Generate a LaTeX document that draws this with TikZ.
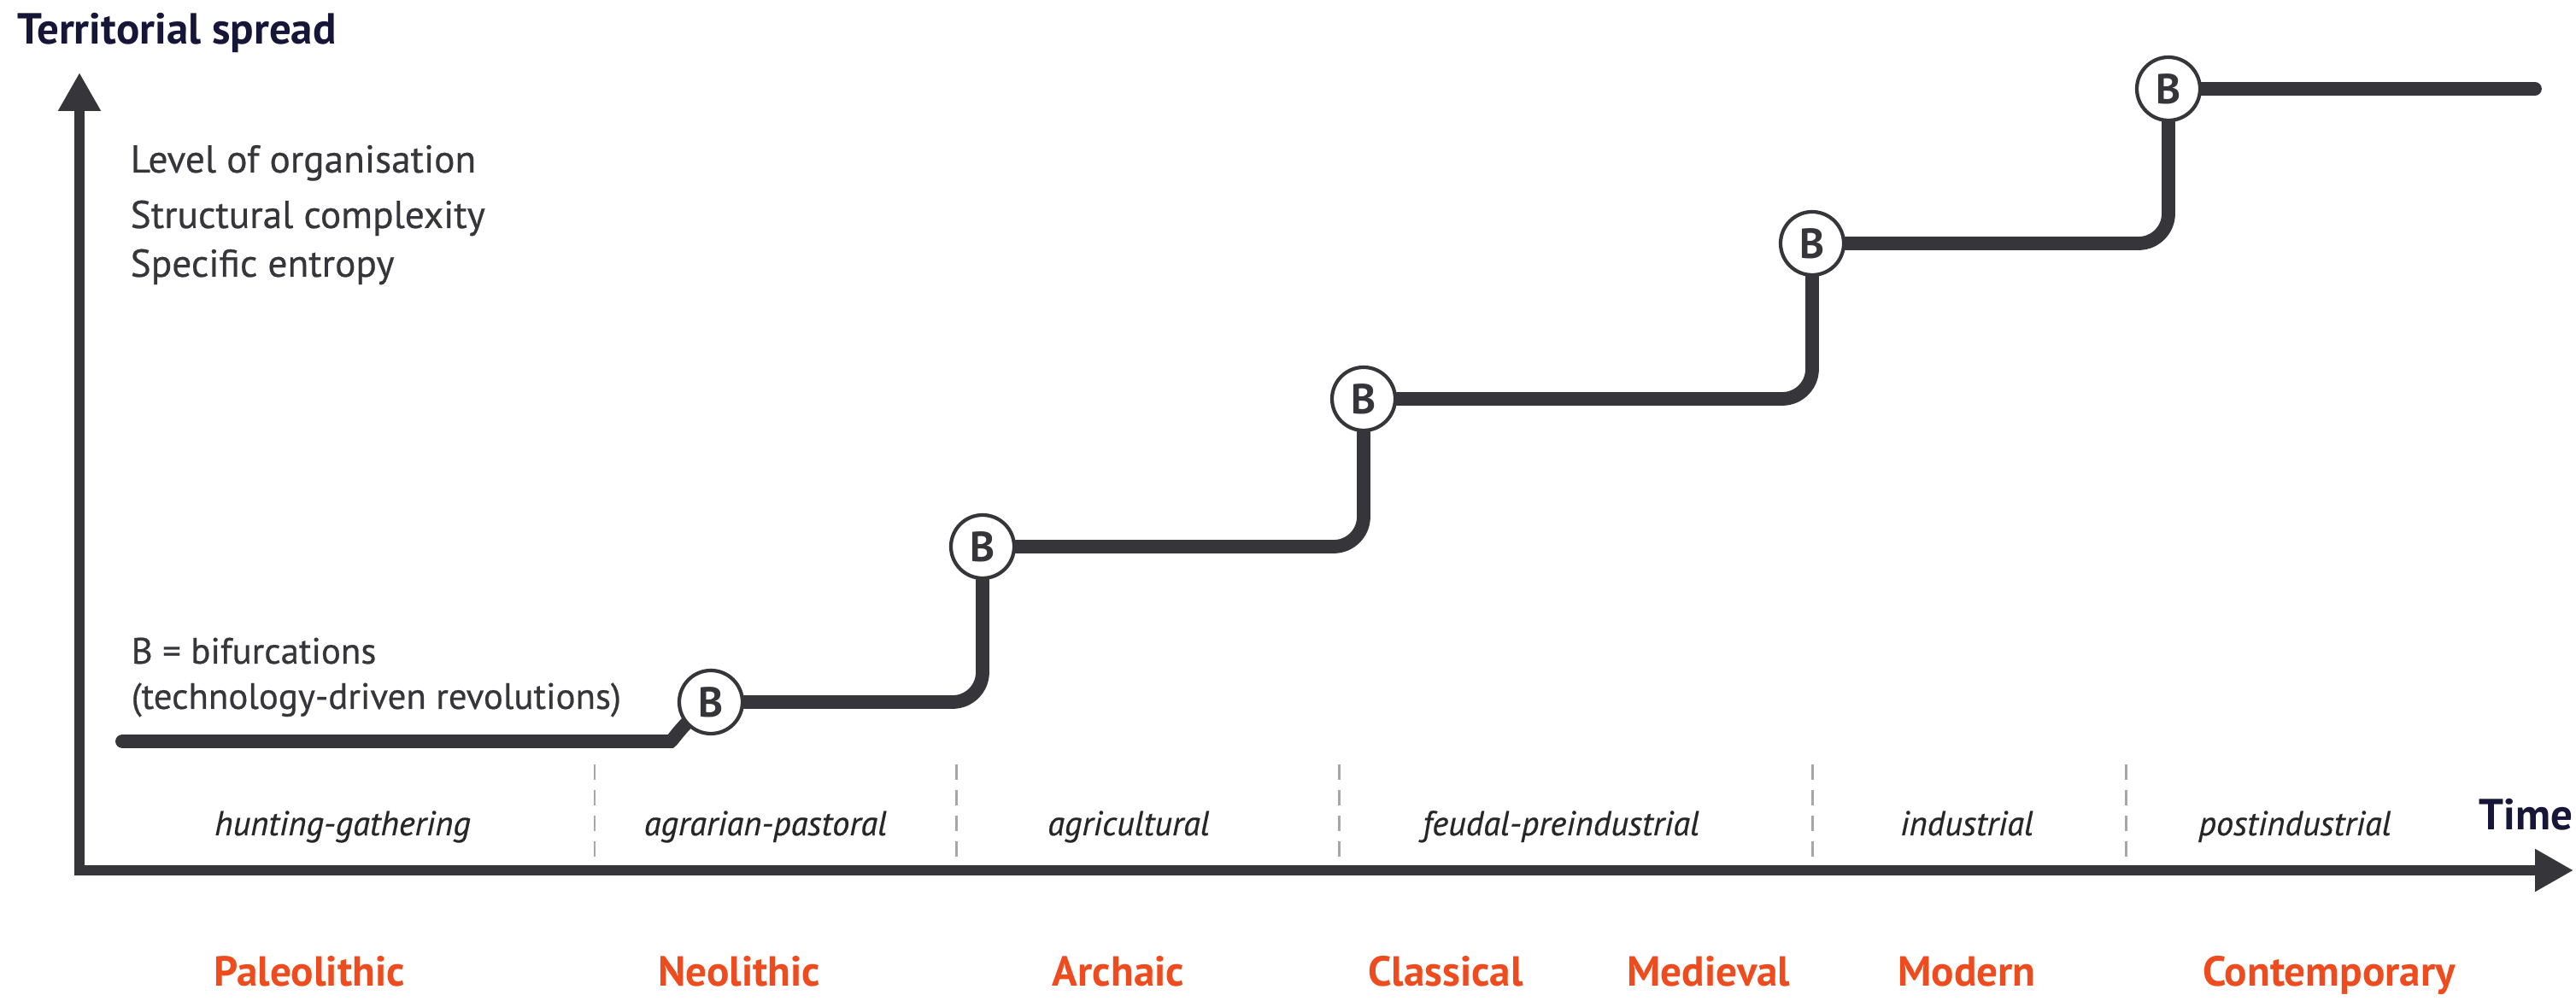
\documentclass[tikz,border=0pt]{standalone}
\usepackage{fontspec}
\setmainfont{PT Sans}
\newfontfamily\mediumfont{PT Sans}[FakeBold=0.5]
\usetikzlibrary{arrows,arrows.meta,shapes,backgrounds}
\definecolor{navy}{HTML}{161638}
\definecolor{ink}{HTML}{36363A}
\definecolor{era}{HTML}{EE4B1E}
\tikzstyle{bnode}=[circle,draw=ink,line width=1.2pt,fill=white,minimum size=0.74cm,inner sep=0pt,text=ink,font=\fontsize{14}{14}\selectfont\bfseries]
\tikzstyle{axis}=[draw=ink,line width=3.4pt,{Triangle[length=4.5mm,width=4.7mm]}-{Triangle[length=4.5mm,width=4.7mm]}]
\tikzstyle{stair}=[draw=ink,line width=4.5pt,rounded corners=3.5mm,line cap=round]
\tikzstyle{divider}=[draw=black!35,line width=0.85pt,dash pattern=on 1.8mm off 1.2mm]
\tikzstyle{axistitle}=[inner sep=0pt,text=navy,font=\fontsize{14.5}{16}\selectfont\bfseries]
\tikzstyle{note}=[anchor=base west,inner sep=0pt,text=ink,font=\fontsize{12.9}{15}\mediumfont]
\tikzstyle{legend}=[anchor=base west,inner sep=0pt,text=ink,font=\fontsize{12.2}{15}\mediumfont]
\tikzstyle{stage}=[anchor=base,inner sep=0pt,text=black!85,font=\fontsize{11.5}{13}\mediumfont\itshape]
\tikzstyle{epoch}=[anchor=base,inner sep=0pt,text=era,font=\fontsize{14}{16}\selectfont\bfseries]

\begin{document}
\begin{tikzpicture}

    \useasboundingbox (0,0) rectangle (30.15,11.72);

    % axes
    \coordinate (O) at (0.93,1.53);
    \coordinate (ytip) at (0.93,10.87);
    \coordinate (xtip) at (30.12,1.53);

    \foreach \x/\name in {6.96/d1, 11.19/d2, 15.67/d3, 21.21/d4, 24.88/d5}
        \draw[divider] (\x,2.77) coordinate (\name) -- (\name |- O);

    \draw[axis] (ytip) -- (O) -- (xtip);

    \node[axistitle, anchor=base west] (ylabel) at (0.2,11.20) {Territorial spread};
    \node[axistitle, anchor=base east] (xlabel) at (30.12,2.00) {Time};

    \foreach \y/\name/\txt in {9.70/n1/Level of organisation, 9.05/n2/Structural complexity, 8.48/n3/Specific entropy}
        \node[note] (\name) at (1.52,\y) {\txt};

    \node[legend] (legend1) at (1.53,3.95) {B = bifurcations};
    \node[legend] (legend2) at (1.53,3.42) {(technology-driven revolutions)};

    % bifurcations
    \foreach \x/\y/\name in {8.32/3.50/b1, 11.50/5.32/b2, 15.96/7.05/b3, 21.21/8.87/b4, 25.38/10.68/b5}
        \node[bnode] (\name) at (\x,\y) {B};

    \coordinate (start) at (1.43,3.04);
    \coordinate (bend) at (7.50,3.04);
    \coordinate (finish) at (29.67,10.68);

    \begin{scope}[on background layer]
        \draw[stair] (start) -- (bend) to[out=0,in=215] (b1.center);
        \foreach \source/ \dest in {b1/b2, b2/b3, b3/b4, b4/b5}
            \draw[stair] (\source) -| (\dest);
        \draw[stair] (b5) -- (finish);
    \end{scope}

    % stages and epochs
    \foreach \x/\name/\txt in {4.01/s1/hunting-gathering, 8.96/s2/agrarian-pastoral, 13.21/s3/agricultural, 18.27/s4/feudal-preindustrial, 23.02/s5/industrial, 26.86/s6/postindustrial}
        \node[stage] (\name) at (\x,1.94) {\txt};

    \foreach \x/\name/\txt in {3.62/e1/Paleolithic, 8.65/e2/Neolithic, 13.09/e3/Archaic, 16.92/e4/Classical, 20.00/e5/Medieval, 23.02/e6/Modern, 27.26/e7/Contemporary}
        \node[epoch] (\name) at (\x,0.17) {\txt};

\end{tikzpicture}
\end{document}
